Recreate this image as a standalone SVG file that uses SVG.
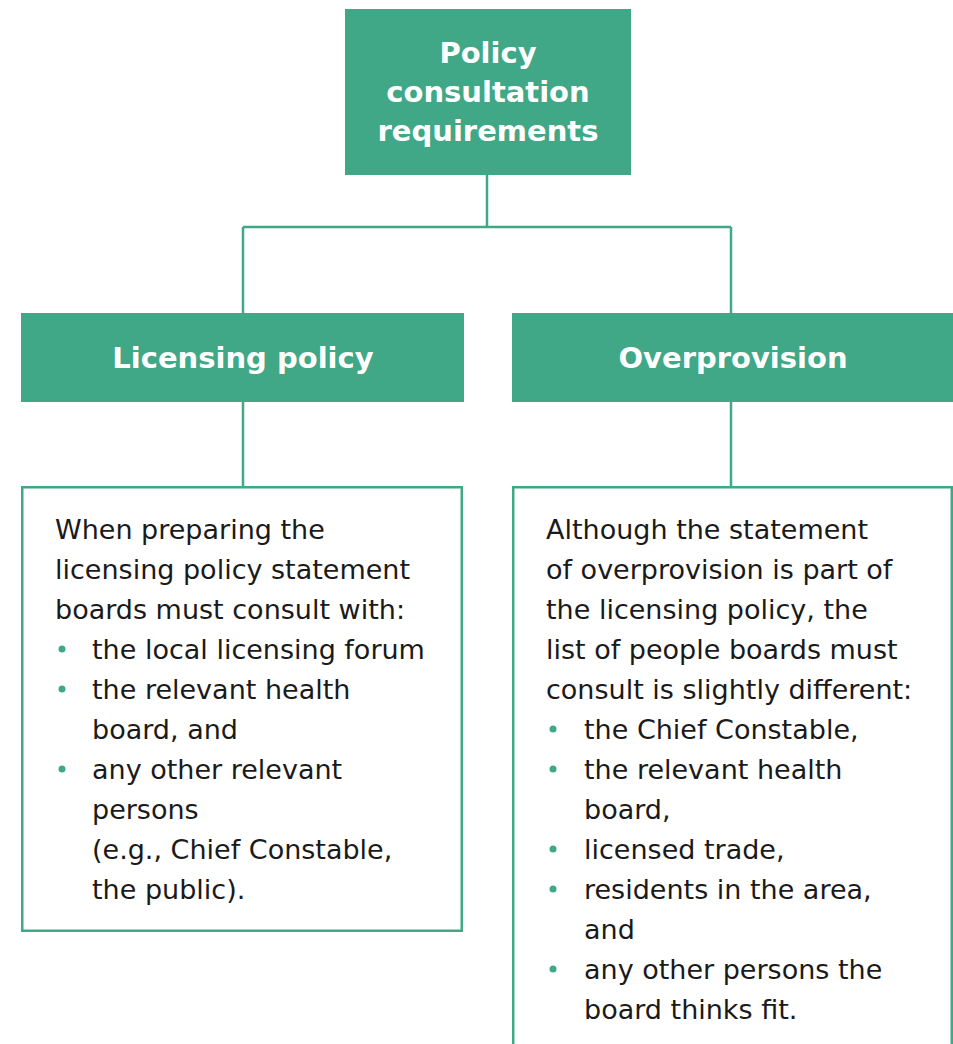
<svg xmlns="http://www.w3.org/2000/svg" width="953" height="1044" viewBox="0 0 953 1044">
  <style>
    .hdr { fill: #40a886; }
    .box { fill: #ffffff; stroke: #40a886; stroke-width: 2.5; }
    .conn { fill: none; stroke: #40a886; stroke-width: 2.5; }
    .ht { font-family: "DejaVu Sans", sans-serif; font-weight: bold; font-size: 29px; fill: #ffffff; text-anchor: middle; }
    .bt { font-family: "DejaVu Sans", sans-serif; font-size: 27px; fill: #1a1a1a; }
    .dot { fill: #40a886; }
  </style>
  <rect width="953" height="1044" fill="#ffffff"/>
  <g id="connectors">
    <line class="conn" x1="487" y1="175" x2="487" y2="227"/>
    <line class="conn" x1="243" y1="227" x2="731" y2="227"/>
    <line class="conn" x1="243" y1="227" x2="243" y2="313"/>
    <line class="conn" x1="731" y1="227" x2="731" y2="313"/>
    <line class="conn" x1="243" y1="402" x2="243" y2="486"/>
    <line class="conn" x1="731" y1="402" x2="731" y2="486"/>
  </g>
  <g id="root">
    <rect class="hdr" x="345" y="9" width="286" height="166"/>
    <text class="ht" x="488" y="63">Policy</text>
    <text class="ht" x="488" y="102">consultation</text>
    <text class="ht" x="488" y="141">requirements</text>
  </g>
  <g id="licensing-policy">
    <rect class="hdr" x="21" y="313" width="443" height="89"/>
    <text class="ht" x="243" y="368">Licensing policy</text>
  </g>
  <g id="overprovision">
    <rect class="hdr" x="512" y="313" width="441" height="89"/>
    <text class="ht" x="733" y="368">Overprovision</text>
  </g>
  <g id="licensing-detail">
    <rect class="box" x="22.25" y="487.25" width="439.5" height="443.5"/>
    <text class="bt" x="55" y="539">When preparing the</text>
    <text class="bt" x="55" y="579">licensing policy statement</text>
    <text class="bt" x="55" y="619">boards must consult with:</text>
    <circle class="dot" cx="62" cy="649" r="3.5"/>
    <text class="bt" x="92" y="659">the local licensing forum</text>
    <circle class="dot" cx="62" cy="689" r="3.5"/>
    <text class="bt" x="92" y="699">the relevant health</text>
    <text class="bt" x="92" y="739">board, and</text>
    <circle class="dot" cx="62" cy="769" r="3.5"/>
    <text class="bt" x="92" y="779">any other relevant</text>
    <text class="bt" x="92" y="819">persons</text>
    <text class="bt" x="92" y="859">(e.g., Chief Constable,</text>
    <text class="bt" x="92" y="899">the public).</text>
  </g>
  <g id="overprovision-detail">
    <rect class="box" x="513.25" y="487.25" width="438.5" height="580"/>
    <text class="bt" x="546" y="539">Although the statement</text>
    <text class="bt" x="546" y="579">of overprovision is part of</text>
    <text class="bt" x="546" y="619">the licensing policy, the</text>
    <text class="bt" x="546" y="659">list of people boards must</text>
    <text class="bt" x="546" y="699">consult is slightly different:</text>
    <circle class="dot" cx="553" cy="729" r="3.5"/>
    <text class="bt" x="584" y="739">the Chief Constable,</text>
    <circle class="dot" cx="553" cy="769" r="3.5"/>
    <text class="bt" x="584" y="779">the relevant health</text>
    <text class="bt" x="584" y="819">board,</text>
    <circle class="dot" cx="553" cy="849" r="3.5"/>
    <text class="bt" x="584" y="859">licensed trade,</text>
    <circle class="dot" cx="553" cy="889" r="3.5"/>
    <text class="bt" x="584" y="899">residents in the area,</text>
    <text class="bt" x="584" y="939">and</text>
    <circle class="dot" cx="553" cy="969" r="3.5"/>
    <text class="bt" x="584" y="979">any other persons the</text>
    <text class="bt" x="584" y="1019">board thinks fit.</text>
  </g>
</svg>
